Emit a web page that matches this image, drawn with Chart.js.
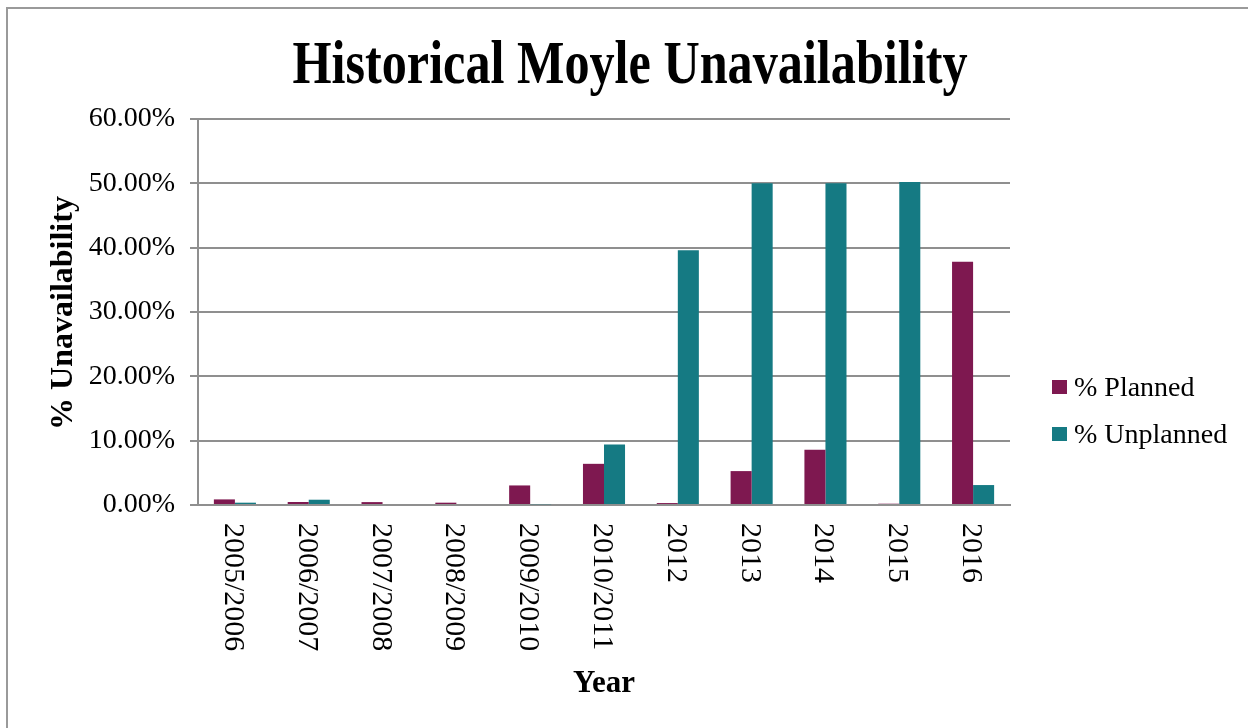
<!DOCTYPE html>
<html>
<head>
<meta charset="utf-8">
<script src="https://cdn.jsdelivr.net/npm/chart.js@4.4.1/dist/chart.umd.min.js"></script>
<style>
  html, body { margin: 0; padding: 0; background: #fff; overflow: hidden; }
  #marco { position: absolute; left: 6px; top: 7px; width: 2000px; height: 2000px; border: 2px solid #9a9a9a; }
  #grafica { position: absolute; left: 0; top: 0; }
</style>
</head>
<body>
<div id="marco"></div>
<canvas id="grafica" width="1248" height="728"></canvas>
<script>
// Datos (porcentajes)
const anios = ['2005/2006', '2006/2007', '2007/2008', '2008/2009', '2009/2010', '2010/2011',
  '2012', '2013', '2014', '2015', '2016'];
const planificado = [0.87, 0.47, 0.45, 0.36, 3.04, 6.4, 0.3, 5.27, 8.6, 0.2, 37.8];
const noPlanificado = [0.36, 0.82, 0, 0, 0.12, 9.4, 39.6, 50.0, 50.0, 50.2, 3.1];
const marcasY = [0, 10, 20, 30, 40, 50, 60];

const colorPlan = '#7e1850';
const colorNoPlan = '#157a83';
const gris = '#8f8f8f';
const serif = '"Liberation Serif", "Times New Roman", serif';

// Textos propios: título, ejes, etiquetas giradas y leyenda
const textos = {
  id: 'textos',
  afterDraw(chart) {
    const ctx = chart.ctx;
    const x = chart.scales.x;
    ctx.save();
    ctx.fillStyle = '#000';

    // título (más estrecho que la fuente, se ajusta al ancho)
    ctx.font = 'bold 62px ' + serif;
    const titulo = 'Historical Moyle Unavailability';
    const ancho = ctx.measureText(titulo).width;
    ctx.save();
    ctx.translate(630, 83);
    ctx.scale(675 / ancho, 1);
    ctx.textAlign = 'center';
    ctx.textBaseline = 'alphabetic';
    ctx.fillText(titulo, 0, 0);
    ctx.restore();

    // título eje Y
    ctx.save();
    ctx.font = 'bold 32px ' + serif;
    ctx.translate(72, 313);
    ctx.rotate(-Math.PI / 2);
    ctx.textAlign = 'center';
    ctx.textBaseline = 'alphabetic';
    ctx.fillText('% Unavailability', 0, 0);
    ctx.restore();

    // título eje X
    ctx.font = 'bold 31px ' + serif;
    ctx.textAlign = 'center';
    ctx.textBaseline = 'alphabetic';
    ctx.fillText('Year', 604, 692);

    // etiquetas del eje X, giradas en sentido horario
    ctx.font = '30px ' + serif;
    ctx.textAlign = 'left';
    anios.forEach((a, i) => {
      ctx.save();
      ctx.translate(x.getPixelForValue(i), 523);
      ctx.rotate(Math.PI / 2);
      ctx.fillText(a, 0, 10);
      ctx.restore();
    });

    // leyenda
    ctx.font = '28px ' + serif;
    chart.data.datasets.forEach((d, i) => {
      const y = 380 + i * 47;
      ctx.fillStyle = d.backgroundColor;
      ctx.fillRect(1052, y, 15, 14);
      ctx.fillStyle = '#000';
      ctx.fillText(d.label, 1074, y + 16);
    });
    ctx.restore();
  }
};

new Chart(document.getElementById('grafica').getContext('2d'), {
  type: 'bar',
  data: {
    labels: anios,
    datasets: [{
      label: '% Planned',
      data: planificado,
      backgroundColor: colorPlan,
      categoryPercentage: 0.57,
      barPercentage: 1
    }, {
      label: '% Unplanned',
      data: noPlanificado,
      backgroundColor: colorNoPlan,
      categoryPercentage: 0.57,
      barPercentage: 1
    }]
  },
  options: {
    responsive: false,
    animation: false,
    layout: { padding: { top: 119, right: 238, bottom: 0, left: 0 } },
    plugins: {
      legend: { display: false },
      title: { display: false },
      tooltip: { enabled: false }
    },
    scales: {
      x: {
        grid: { display: false },
        border: { display: true, color: gris, width: 2 },
        ticks: { display: false },
        afterFit: s => { s.height = 223; }
      },
      y: {
        min: 0,
        max: 60,
        afterBuildTicks: s => { s.ticks = marcasY.map(v => ({ value: v })); },
        grid: { color: gris, lineWidth: 2, tickLength: 8 },
        border: { display: true, color: gris, width: 2 },
        ticks: {
          padding: 15,
          color: '#000',
          font: { family: serif, size: 28 },
          callback: v => v.toFixed(2) + '%'
        },
        afterFit: s => { s.width = 198; }
      }
    }
  },
  plugins: [textos]
});
</script>
</body>
</html>
